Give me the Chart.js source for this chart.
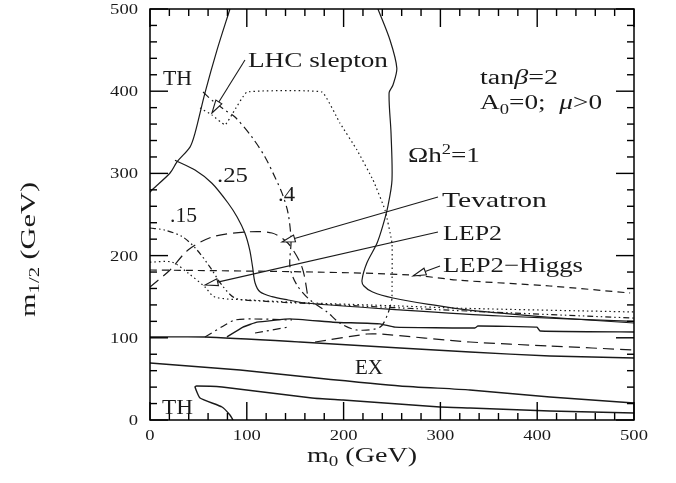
<!DOCTYPE html>
<html>
<head>
<meta charset="utf-8">
<script src="https://cdn.jsdelivr.net/npm/chart.js@4.4.1/dist/chart.umd.min.js"></script>
<style>
  html, body { margin: 0; padding: 0; background: #fff; }
  canvas { display: block; }
</style>
</head>
<body>
<canvas id="chart" width="676" height="483"></canvas>
<script>
// m0 (GeV) vs m1/2 (GeV)
const thUpper = [[82.6,500],[69.2,450],[56.8,398],[46.5,349],[41.3,332],[27.9,314],[20.7,300.5],[2.1,280],[0,277]];
const omega1 = [[235.5,500],[248,462],[255,428],[251,407.5],[247,398],[249,349],[250,292],[246,261.5],[240.7,237],[234.5,215],[224,191],[219,170],[221,163],[230,155.7],[251,148.4],[292,140],[327.5,134],[413,125],[500,118]];
const omega025 = [[25.8,316],[46.5,304],[64,288],[80.6,264],[90,247],[98,227.5],[103,207],[106,186],[108.5,167],[113.6,156],[126,150],[142.6,146],[163,142],[258,134],[362,126.5],[500,120]];
const omega04 = [[54.8,399],[64,389],[77.5,377],[87.8,368.6],[105.4,344],[118.8,320],[129,295.6],[136.4,276],[142.6,251.8],[145.7,219],[144.6,186],[151.9,164],[165.3,146],[183,131.4],[196,118],[213.8,109.5],[237.6,113],[245.9,130],[251,152]];
const omega015 = [[0,233.6],[15.5,231],[34,222.6],[48.6,206.8],[62,186],[74.4,164],[87.8,148.4],[113.6,144.8],[175.6,141],[327.5,132.6],[500,124]];
const lhcSlepton = [[51.7,379.6],[64,371],[77.5,359],[85.7,373.5],[100.2,399],[177.7,399],[196.3,361],[213.8,328.5],[230.4,292],[242.8,255.5],[250,215],[250,149.6]];
const tevatronReach = [[0,161.8],[20.7,182.5],[39.3,206.8],[64,222.6],[98.1,228.7],[126,227.5],[142.6,215],[157,186],[163.2,149.6]];
const lep2Reach = [[0,192],[22.7,192],[39.3,178.8],[56.8,161.8],[67,149.6],[103.3,146],[167.4,142.3],[258,138.7],[320,136],[500,131.4]];
const lep2Higgs = [[0,182.5],[170.5,180],[268.6,176.4],[320,170],[413,163],[496,154.5]];
const exUpper = [[0,101],[56.8,101],[155,94.9],[258.3,87.6],[330.6,82.7],[413.2,77.9],[500,75.4]];
const exLower = [[0,69.3],[93,60.8],[162.2,52.3],[258.3,41.4],[330.6,36.5],[413.2,28],[500,20.7]];
const thLower = [[85.7,0],[82.6,6.1],[74.4,15.8],[51.7,26.8],[46.5,40.1],[48,41.4],[74.4,40.1],[167.4,26.8],[199.4,24.3],[299.6,15.8],[330.6,14.6],[413.2,10.9],[500,8.5]];
const charginoLow = [[79.5,101],[96,113],[110.5,119],[144.6,123],[189,119],[237.6,117],[253,113],[335.7,112],[338.8,114.4],[399.8,113],[403,108.3],[500,107]];
const dashDotLow1 = [[56.8,101],[77.5,115.6],[87.8,121.7],[108.5,122.9],[146.7,121.7]];
const dashDotLow2 = [[108.5,105.8],[142.6,113]];
const dashedLow = [[170.5,94.9],[224.2,104.6],[237.6,104.6],[330.6,94.9],[413.2,90],[500,85.2]];

const xTicks = [0, 100, 200, 300, 400, 500];
const yTicks = [0, 100, 200, 300, 400, 500];
const xTickLabels = ['0', '100', '200', '300', '400', '500'];
const yTickLabels = ['0', '100', '200', '300', '400', '500'];
const minorTicks = [0, 20, 40, 60, 80, 100, 120, 140, 160, 180, 200, 220, 240, 260, 280, 300, 320, 340, 360, 380, 400, 420, 440, 460, 480, 500];

const SERIF = '"Liberation Serif", "Times New Roman", serif';
const INK = '#1a1a1a';

const SOLID = [];
const DOTTED = [1.5, 3];
const DASHDOT = [8, 4, 2, 4];
const DASHDOTDOT = [6, 3, 1.5, 3, 1.5, 3];
const LONGDASH = [11, 6];
const DASHED = [7, 5];

function curve(pts, dash, tension = 0.3, width = 1.2) {
  return {
    data: pts.map(([x, y]) => ({ x, y })),
    showLine: true,
    pointRadius: 0,
    borderColor: INK,
    borderWidth: width,
    borderDash: dash,
    tension: tension,
    fill: false,
  };
}

const datasets = [
  curve(thUpper, SOLID),
  curve(omega1, SOLID),
  curve(omega025, SOLID),
  curve(omega04, DASHDOT),
  curve(omega015, DASHDOTDOT),
  curve(lhcSlepton, DOTTED, 0.1),
  curve(tevatronReach, LONGDASH),
  curve(lep2Reach, DOTTED),
  curve(lep2Higgs, DASHED),
  curve(exUpper, SOLID, 0.2, 1.4),
  curve(exLower, SOLID, 0.2, 1.4),
  curve(thLower, SOLID, 0.15, 1.4),
  curve(charginoLow, SOLID, 0.1, 1.4),
  curve(dashDotLow1, DASHDOT),
  curve(dashDotLow2, DASHDOT),
  curve(dashedLow, LONGDASH, 0.2),
];

// text labels: anchor (left edge, cap middle) in data units
const labels = [
  { segs: [{ t: 'TH' }], at: [13.4, 416.7], size: 22, w: 29 },
  { segs: [{ t: 'LHC slepton' }], at: [101.2, 438], size: 22, w: 140 },
  { segs: [{ t: 'tan' }, { t: 'β', it: true }, { t: '=2' }], at: [341, 417], size: 20, w: 78 },
  { segs: [{ t: 'A' }, { t: '0', sub: true }, { t: '=0;  ' }, { t: 'μ', it: true }, { t: '>0' }], at: [341, 386], size: 20, w: 122 },
  { segs: [{ t: 'Ωh' }, { t: '2', sup: true }, { t: '=1' }], at: [266.5, 322], size: 20, w: 72 },
  { segs: [{ t: '.25' }], at: [69.2, 297.4], size: 21, w: 31 },
  { segs: [{ t: '.4' }], at: [132.2, 275], size: 21, w: 17 },
  { segs: [{ t: '.15' }], at: [20.7, 249.4], size: 21, w: 27 },
  { segs: [{ t: 'Tevatron' }], at: [301.6, 267.6], size: 21, w: 105 },
  { segs: [{ t: 'LEP2' }], at: [302.7, 227.5], size: 21, w: 59 },
  { segs: [{ t: 'LEP2−Higgs' }], at: [302.7, 188.6], size: 21, w: 140 },
  { segs: [{ t: 'EX' }], at: [211.8, 64.5], size: 21, w: 28 },
  { segs: [{ t: 'TH' }], at: [12.4, 15.8], size: 22, w: 31 },
];

// label leader lines: from, arrow tip (data units)
const arrows = [
  { from: [98.1, 438], to: [64, 373.5] },
  { from: [297.5, 271.3], to: [136.4, 216.5] },
  { from: [297.5, 228.7], to: [56.8, 164.2] },
  { from: [299.6, 187.3], to: [271.7, 175.2] },
];

function segFont(s, size) {
  const fs = (s.sub || s.sup) ? size * 0.68 : size;
  return (s.it ? 'italic ' : '') + fs.toFixed(1) + 'px ' + SERIF;
}

function drawRich(ctx, segs, x, y, size, width, align) {
  let natural = 0;
  for (const s of segs) { ctx.font = segFont(s, size); natural += ctx.measureText(s.t).width; }
  const k = width ? width / natural : 1;
  const total = natural * k;
  const x0 = align === 'center' ? x - total / 2 : align === 'right' ? x - total : x;
  ctx.save();
  ctx.translate(x0, y);
  ctx.scale(k, 1);
  ctx.textBaseline = 'alphabetic';
  ctx.textAlign = 'left';
  let cx = 0;
  for (const s of segs) {
    ctx.font = segFont(s, size);
    const dy = s.sub ? size * 0.22 : s.sup ? -size * 0.4 : 0;
    ctx.fillText(s.t, cx, dy);
    cx += ctx.measureText(s.t).width;
  }
  ctx.restore();
}

function drawArrow(ctx, x1, y1, x2, y2) {
  const ang = Math.atan2(y2 - y1, x2 - x1);
  const len = 13, half = 3.5;
  const bx = x2 - len * Math.cos(ang), by = y2 - len * Math.sin(ang);
  ctx.beginPath();
  ctx.moveTo(x1, y1);
  ctx.lineTo(bx, by);
  ctx.stroke();
  ctx.beginPath();
  ctx.moveTo(x2, y2);
  ctx.lineTo(bx + half * Math.sin(ang), by - half * Math.cos(ang));
  ctx.lineTo(bx - half * Math.sin(ang), by + half * Math.cos(ang));
  ctx.closePath();
  ctx.fillStyle = '#fff';
  ctx.fill();
  ctx.stroke();
}

const frameAndText = {
  id: 'frameAndText',
  afterDraw(chart) {
    const { ctx, chartArea: a, scales } = chart;
    const xs = scales.x, ys = scales.y;
    ctx.save();
    ctx.setLineDash([]);
    ctx.strokeStyle = '#000';
    ctx.fillStyle = '#000';

    // frame
    ctx.lineWidth = 1.5;
    ctx.strokeRect(a.left, a.top, a.right - a.left, a.bottom - a.top);

    // inward ticks on all four sides, as thin filled bars
    const tw = 1.4;
    for (const v of minorTicks) {
      const len = v % 100 === 0 ? 18 : 7;
      const px = xs.getPixelForValue(v);
      const py = ys.getPixelForValue(v);
      ctx.fillRect(px - tw / 2, a.bottom - len, tw, len);
      ctx.fillRect(px - tw / 2, a.top, tw, len);
      ctx.fillRect(a.left, py - tw / 2, len, tw);
      ctx.fillRect(a.right - len, py - tw / 2, len, tw);
    }

    // tick labels
    ctx.fillStyle = INK;
    xTicks.forEach((v, i) => {
      const t = xTickLabels[i];
      drawRich(ctx, [{ t }], xs.getPixelForValue(v), a.bottom + 20, 15, t.length * 9.3, 'center');
    });
    yTicks.forEach((v, i) => {
      const t = yTickLabels[i];
      drawRich(ctx, [{ t }], a.left - 12, ys.getPixelForValue(v) + 5, 15, t.length * 9.3, 'right');
    });

    // axis titles
    drawRich(ctx, [{ t: 'm' }, { t: '0', sub: true }, { t: ' (GeV)' }], (a.left + a.right) / 2 - 30, a.bottom + 42, 20, 110, 'center');
    ctx.save();
    ctx.translate(35, (a.top + a.bottom) / 2 + 35);
    ctx.rotate(-Math.PI / 2);
    drawRich(ctx, [{ t: 'm' }, { t: '1/2', sub: true }, { t: ' (GeV)' }], 0, 0, 20, 135, 'center');
    ctx.restore();

    // leader lines
    ctx.lineWidth = 1.1;
    ctx.strokeStyle = INK;
    for (const ar of arrows) {
      drawArrow(ctx,
        xs.getPixelForValue(ar.from[0]), ys.getPixelForValue(ar.from[1]),
        xs.getPixelForValue(ar.to[0]), ys.getPixelForValue(ar.to[1]));
    }

    // in-plot labels
    ctx.fillStyle = INK;
    for (const l of labels) {
      const px = xs.getPixelForValue(l.at[0]);
      const py = ys.getPixelForValue(l.at[1]) + l.size * 0.33;
      drawRich(ctx, l.segs, px, py, l.size, l.w, 'left');
    }
    ctx.restore();
  },
};

const chart = new Chart(document.getElementById('chart'), {
  type: 'scatter',
  data: { datasets },
  options: {
    responsive: false,
    animation: false,
    events: [],
    layout: { padding: { top: 9, right: 42, left: 0, bottom: 0 } },
    plugins: { legend: { display: false }, tooltip: { enabled: false } },
    scales: {
      x: {
        type: 'linear', min: 0, max: 500,
        grid: { display: false }, border: { display: false },
        ticks: { display: false },
        afterFit: s => { s.height = 63; },
      },
      y: {
        type: 'linear', min: 0, max: 500,
        grid: { display: false }, border: { display: false },
        ticks: { display: false },
        afterFit: s => { s.width = 150; },
      },
    },
  },
  plugins: [frameAndText],
});
</script>
</body>
</html>
